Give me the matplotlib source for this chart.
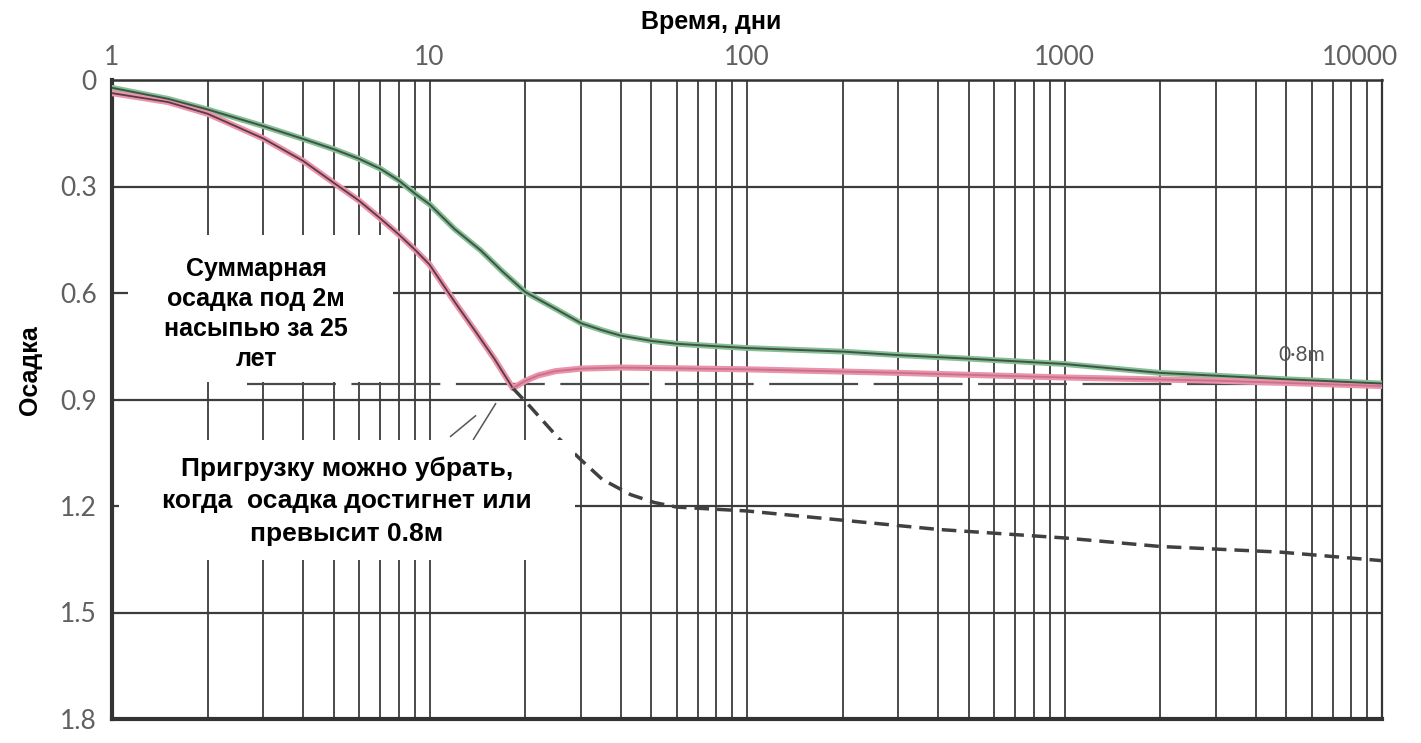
"""Settlement vs. time under a 2 m fill, with surcharge removal point."""

import matplotlib
matplotlib.use("Agg")
import matplotlib.pyplot as plt
from matplotlib.font_manager import FontProperties
from matplotlib.patches import Rectangle
from matplotlib.transforms import ScaledTranslation

# time axis, days
days_total = [1, 1.5, 2, 3, 4, 5, 6, 7, 8, 9, 10, 12, 14.5, 17, 20, 25, 30, 35,
              40, 50, 60, 80, 100, 200, 300, 500, 1000, 2000, 5000, 10000]
settle_total = [0.022, 0.053, 0.083, 0.13, 0.166, 0.195, 0.222, 0.25, 0.283, 0.32,
                0.35, 0.42, 0.48, 0.54, 0.597, 0.645, 0.685, 0.705, 0.72, 0.735,
                0.743, 0.75, 0.755, 0.765, 0.775, 0.785, 0.8, 0.825, 0.843, 0.855]

days_surcharge = [1, 1.5, 2, 3, 4, 5, 6, 7, 8, 9, 10, 12, 14, 16, 18.3, 20, 22,
                  25, 30, 40, 100, 300, 1000, 3000, 10000]
settle_surcharge = [0.037, 0.062, 0.095, 0.165, 0.228, 0.29, 0.34, 0.39, 0.435,
                    0.478, 0.52, 0.625, 0.71, 0.785, 0.868, 0.848, 0.832, 0.82,
                    0.813, 0.81, 0.815, 0.825, 0.838, 0.847, 0.862]

# settlement if the surcharge were left in place
days_kept = [18.3, 20.8, 25.3, 30, 35, 43, 51, 60, 100, 400, 1000, 2000, 4800, 10000]
settle_kept = [0.868, 0.921, 1.006, 1.07, 1.125, 1.168, 1.19, 1.203, 1.214, 1.266,
               1.29, 1.314, 1.33, 1.354]

# target settlement line
target_days = [2.67, 10000]
target_settle = [0.857, 0.857]

# leader strokes from the note to the removal point
leader1_days = [11.65, 13.96]
leader1_settle = [1.004, 0.946]
leader2_days = [13.76, 16.15]
leader2_settle = [1.012, 0.912]

x_major = [1, 10, 100, 1000, 10000]
x_major_labels = ["1", "10", "100", "1000", "10000"]
y_ticks = [0, 0.3, 0.6, 0.9, 1.2, 1.5, 1.8]
y_labels = ["0", "0.3", "0.6", "0.9", "1.2", "1.5", "1.8"]

W, H = 1421, 743
fig = plt.figure(figsize=(W / 100, H / 100), dpi=100)
ax = fig.add_axes([112 / W, 1 - 719 / H, 1270 / W, 639 / H])

ax.set_xscale("log")
ax.set_xlim(1, 10000)
ax.set_ylim(1.8, 0)

grid_col = "#3c3c3c"
ax.set_xticks(x_major)
ax.set_xticklabels(x_major_labels)
ax.set_xticks([m * d for d in (1, 10, 100, 1000) for m in range(2, 10)], minor=True)
ax.set_yticks(y_ticks)
ax.set_yticklabels(y_labels)
ax.xaxis.tick_top()
ax.tick_params(axis="both", which="both", length=0)
ax.tick_params(axis="x", pad=7)
ax.tick_params(axis="y", pad=11)
tick_font = FontProperties(family=["Lato", "DejaVu Sans"], weight="normal", size=19)
for lab in ax.get_xticklabels() + ax.get_yticklabels():
    lab.set_fontproperties(tick_font)
    lab.set_color("#606060")
last = ax.get_xticklabels()[-1]
last.set_transform(last.get_transform() + ScaledTranslation(-0.22, 0, fig.dpi_scale_trans))

ax.grid(True, axis="x", which="both", color=grid_col, lw=1.3)
ax.grid(True, axis="y", which="major", color=grid_col, lw=1.6)
ax.set_axisbelow(True)

for side, w in (("left", 3.0), ("bottom", 3.0), ("top", 1.8), ("right", 1.6)):
    ax.spines[side].set_linewidth(w)
    ax.spines[side].set_color("#333333")

# total settlement under the fill (green, inked over)
ax.plot(days_total, settle_total, color="#86bf96", lw=4.2, solid_capstyle="round", zorder=3)
ax.plot(days_total, settle_total, color="#3d5444", lw=1.4, zorder=4)

# settlement with surcharge (pink, inked over)
ax.plot(days_surcharge, settle_surcharge, color="#ea93ab", lw=4.4, solid_capstyle="round", zorder=3)
ax.plot(days_surcharge[:15], settle_surcharge[:15], color="#5b3a45", lw=1.3, zorder=4)
ax.plot(days_surcharge[14:], settle_surcharge[14:], color="#c9708b", lw=1.3, zorder=4)

ax.plot(target_days, target_settle, color="#4a4a4a", lw=1.6, ls=(0, (40, 7)), zorder=2)
ax.plot(days_kept, settle_kept, color="#404040", lw=2.5, ls=(0, (4.2, 2.3)), zorder=3)

ax.plot(leader1_days, leader1_settle, color="#555555", lw=1.1, zorder=3)
ax.plot(leader2_days, leader2_settle, color="#555555", lw=1.1, zorder=3)

ax.text(5600, 0.775, "0·8m", ha="center", va="center", color="#555555",
        fontsize=15, family=["Lato", "DejaVu Sans"])

# white note boxes over the grid
for x0, y0, x1, y1 in ((128, 235, 393, 382), (119, 440, 575, 560)):
    fig.add_artist(Rectangle((x0 / W, 1 - y1 / H), (x1 - x0) / W, (y1 - y0) / H,
                             transform=fig.transFigure, facecolor="white",
                             edgecolor="none", zorder=5))

note_font = ["Liberation Sans", "DejaVu Sans"]
fig.text(256 / W, 1 - 314 / H, "Суммарная\nосадка под 2м\nнасыпью за 25\nлет",
         ha="center", va="center", ma="center", fontsize=18, fontweight="bold",
         family=note_font, linespacing=1.33, zorder=6)
fig.text(347 / W, 1 - 501 / H,
         "Пригрузку можно убрать,\nкогда  осадка достигнет или\nпревысит 0.8м",
         ha="center", va="center", ma="center", fontsize=19, fontweight="bold",
         family=note_font, linespacing=1.45, zorder=6)

fig.text(711 / W, 1 - 22 / H, "Время, дни", ha="center", va="center",
         fontsize=18, fontweight="bold", family=note_font)
fig.text(30 / W, 1 - 370 / H, "Осадка", ha="center", va="center", rotation=90,
         fontsize=18, fontweight="bold", family=note_font)

fig.savefig("out.png", dpi=100)
